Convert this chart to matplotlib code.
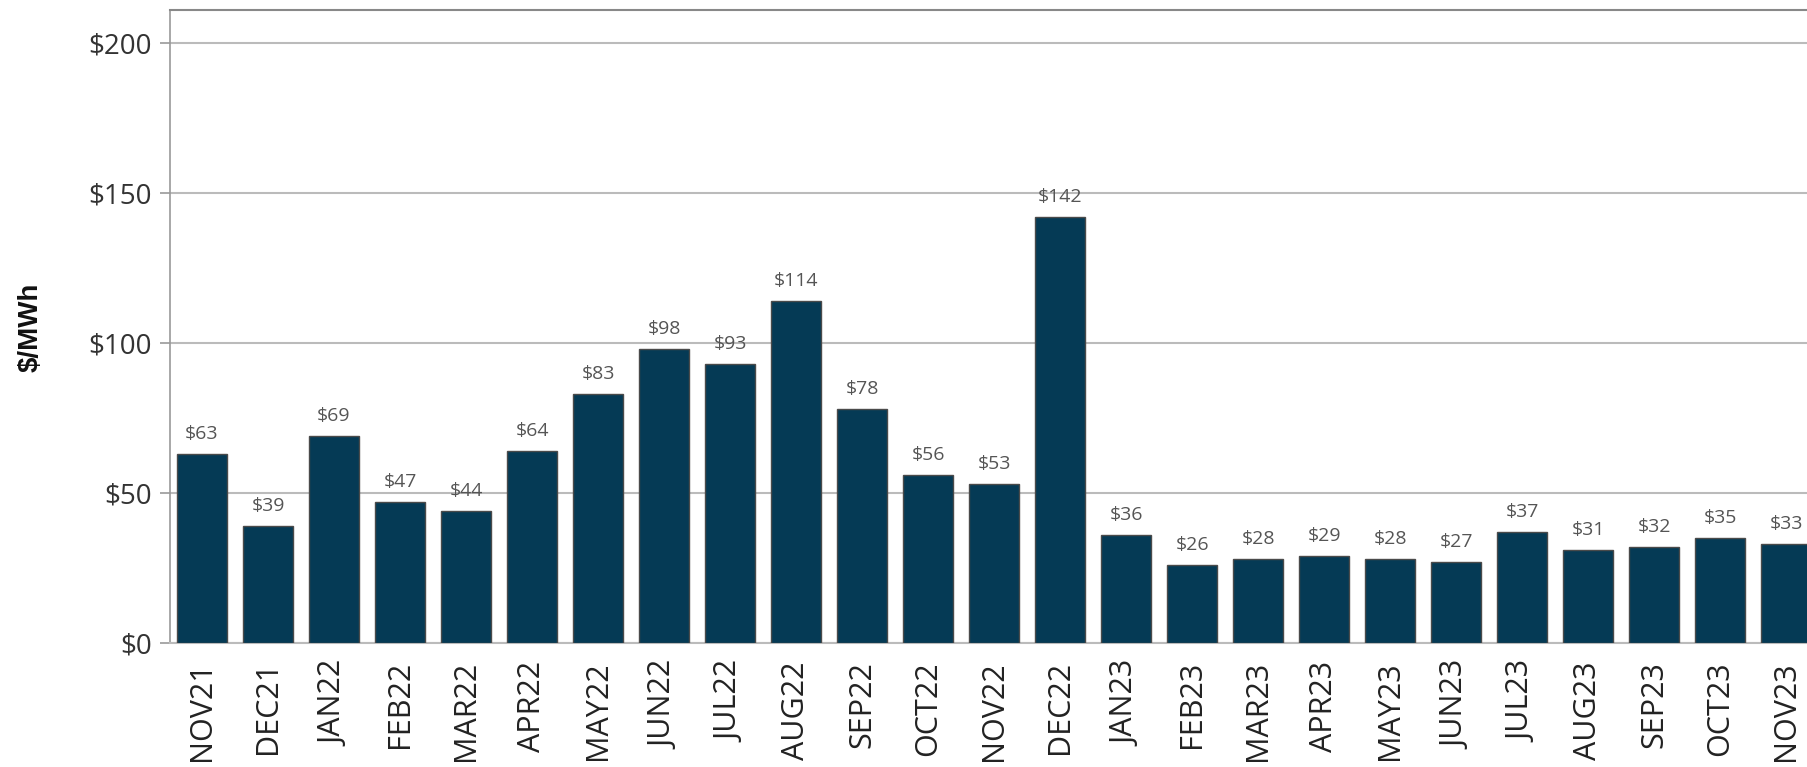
import matplotlib
matplotlib.use("Agg")
import matplotlib.pyplot as plt
import numpy as np

months = ["NOV21", "DEC21", "JAN22", "FEB22", "MAR22", "APR22", "MAY22", "JUN22",
          "JUL22", "AUG22", "SEP22", "OCT22", "NOV22", "DEC22", "JAN23", "FEB23",
          "MAR23", "APR23", "MAY23", "JUN23", "JUL23", "AUG23", "SEP23", "OCT23", "NOV23"]
prices = [63, 39, 69, 47, 44, 64, 83, 98, 93, 114, 78, 56, 53, 142, 36, 26,
          28, 29, 28, 27, 37, 31, 32, 35, 33]
y_ticks = [0, 50, 100, 150, 200]

plt.rcParams['font.family'] = ['Open Sans', 'DejaVu Sans']

fig = plt.figure(figsize=(18.08, 7.67), dpi=100)
ax = fig.add_axes([0.094, 0.1617, 0.906, 0.8253])

x = np.arange(len(months))
ax.bar(x, prices, width=0.75, color="#053a55", edgecolor="#4a4a4a", linewidth=1.0, zorder=3)

# value labels above each bar
for xi, v in zip(x, prices):
    ax.text(xi, v + 3.5, "$%d" % v, ha="center", va="bottom", fontsize=14, color="#555555", zorder=4)

ax.set_xlim(-0.485, 24.33)
ax.set_ylim(0, 211)
ax.set_yticks(y_ticks)
ax.set_yticklabels(["$%d" % t for t in y_ticks], fontsize=20, color="#333333")
ax.set_xticks(x)
ax.set_xticklabels(months, rotation=90, fontsize=22, color="#222222", va="top")
ax.tick_params(axis="x", length=0, pad=13)
ax.tick_params(axis="y", length=7, color="#999999", width=1.2, pad=6)

ax.grid(axis="y", color="#bbbbbb", linewidth=1.5, zorder=0)
ax.spines["right"].set_visible(False)
ax.spines["top"].set_color("#888888")
ax.spines["top"].set_linewidth(1.5)
ax.spines["left"].set_color("#999999")
ax.spines["left"].set_linewidth(1.2)
ax.spines["bottom"].set_color("#bbbbbb")
ax.spines["bottom"].set_linewidth(1.5)

fig.text(0.017, 1 - 327 / 767, "$/MWh", rotation=90, ha="center", va="center",
         fontsize=20, fontweight="bold", family=["Liberation Sans", "DejaVu Sans"], color="#111111")

fig.savefig("out.png", dpi=100)
